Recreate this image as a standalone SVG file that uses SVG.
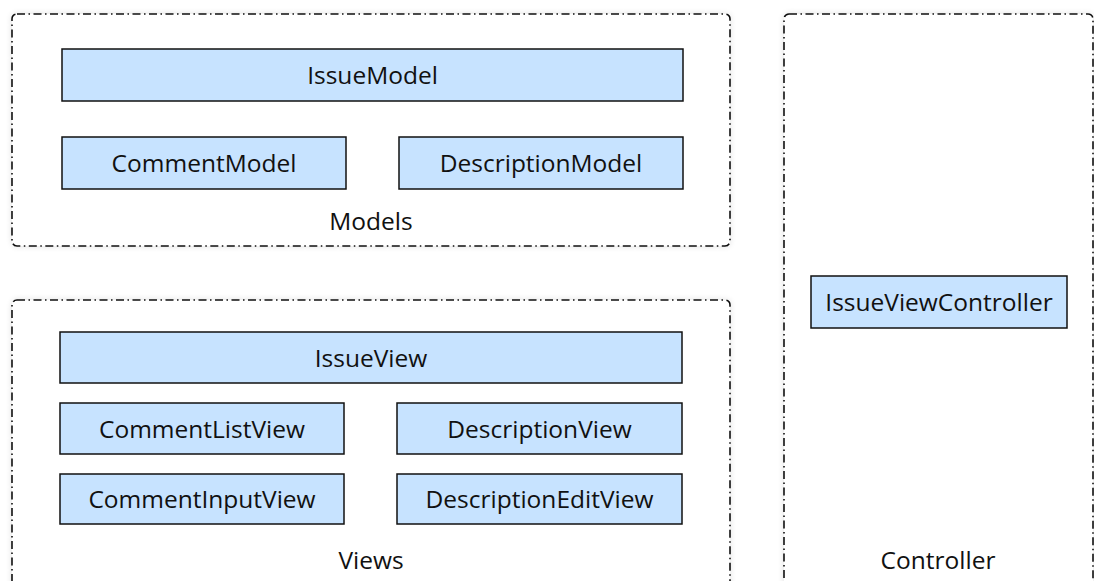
<svg xmlns="http://www.w3.org/2000/svg" width="1094" height="581" viewBox="0 0 1094 581">
<style>
.grp{fill:#fff;stroke:#111;stroke-width:1.6;stroke-dasharray:8 3.5 1.5 3.5;filter:url(#sh)}
.node rect{fill:#c7e3ff;stroke:#111;stroke-width:1.5}
text{font-family:"Open Sans","Noto Sans",sans-serif;font-size:24.5px;fill:#111;text-anchor:middle;dominant-baseline:central}
</style>
<defs>
<filter id="sh" x="-5%" y="-5%" width="110%" height="110%">
<feGaussianBlur in="SourceAlpha" stdDeviation="3"/>
<feComponentTransfer><feFuncA type="linear" slope="0.12"/></feComponentTransfer>
<feMerge><feMergeNode/><feMergeNode in="SourceGraphic"/></feMerge>
</filter>
</defs>
<rect width="1094" height="581" fill="#fff"/>
<g id="models">
<rect class="grp" x="12" y="14" width="718" height="232" rx="5"/>
<text x="371" y="220">Models</text>
</g>
<g id="views">
<rect class="grp" x="12" y="300" width="718" height="320" rx="5"/>
<text x="371" y="559">Views</text>
</g>
<g id="controller">
<rect class="grp" x="784" y="14" width="309" height="606" rx="5"/>
<text x="938" y="559">Controller</text>
</g>
<g id="IssueModel" class="node"><rect x="62" y="49" width="621" height="52"/><text x="372.5" y="74">IssueModel</text></g>
<g id="CommentModel" class="node"><rect x="62" y="137" width="284" height="52"/><text x="204" y="162">CommentModel</text></g>
<g id="DescriptionModel" class="node"><rect x="399" y="137" width="284" height="52"/><text x="541" y="162">DescriptionModel</text></g>
<g id="IssueView" class="node"><rect x="60" y="332" width="622" height="51"/><text x="371" y="357">IssueView</text></g>
<g id="CommentListView" class="node"><rect x="60" y="403" width="284" height="51"/><text x="202" y="428">CommentListView</text></g>
<g id="DescriptionView" class="node"><rect x="397" y="403" width="285" height="51"/><text x="539.5" y="428">DescriptionView</text></g>
<g id="CommentInputView" class="node"><rect x="60" y="474" width="284" height="50"/><text x="202" y="498">CommentInputView</text></g>
<g id="DescriptionEditView" class="node"><rect x="397" y="474" width="285" height="50"/><text x="539.5" y="498">DescriptionEditView</text></g>
<g id="IssueViewController" class="node"><rect x="811" y="276" width="256" height="52"/><text x="939" y="301">IssueViewController</text></g>
<g id="connectors"></g>
</svg>
